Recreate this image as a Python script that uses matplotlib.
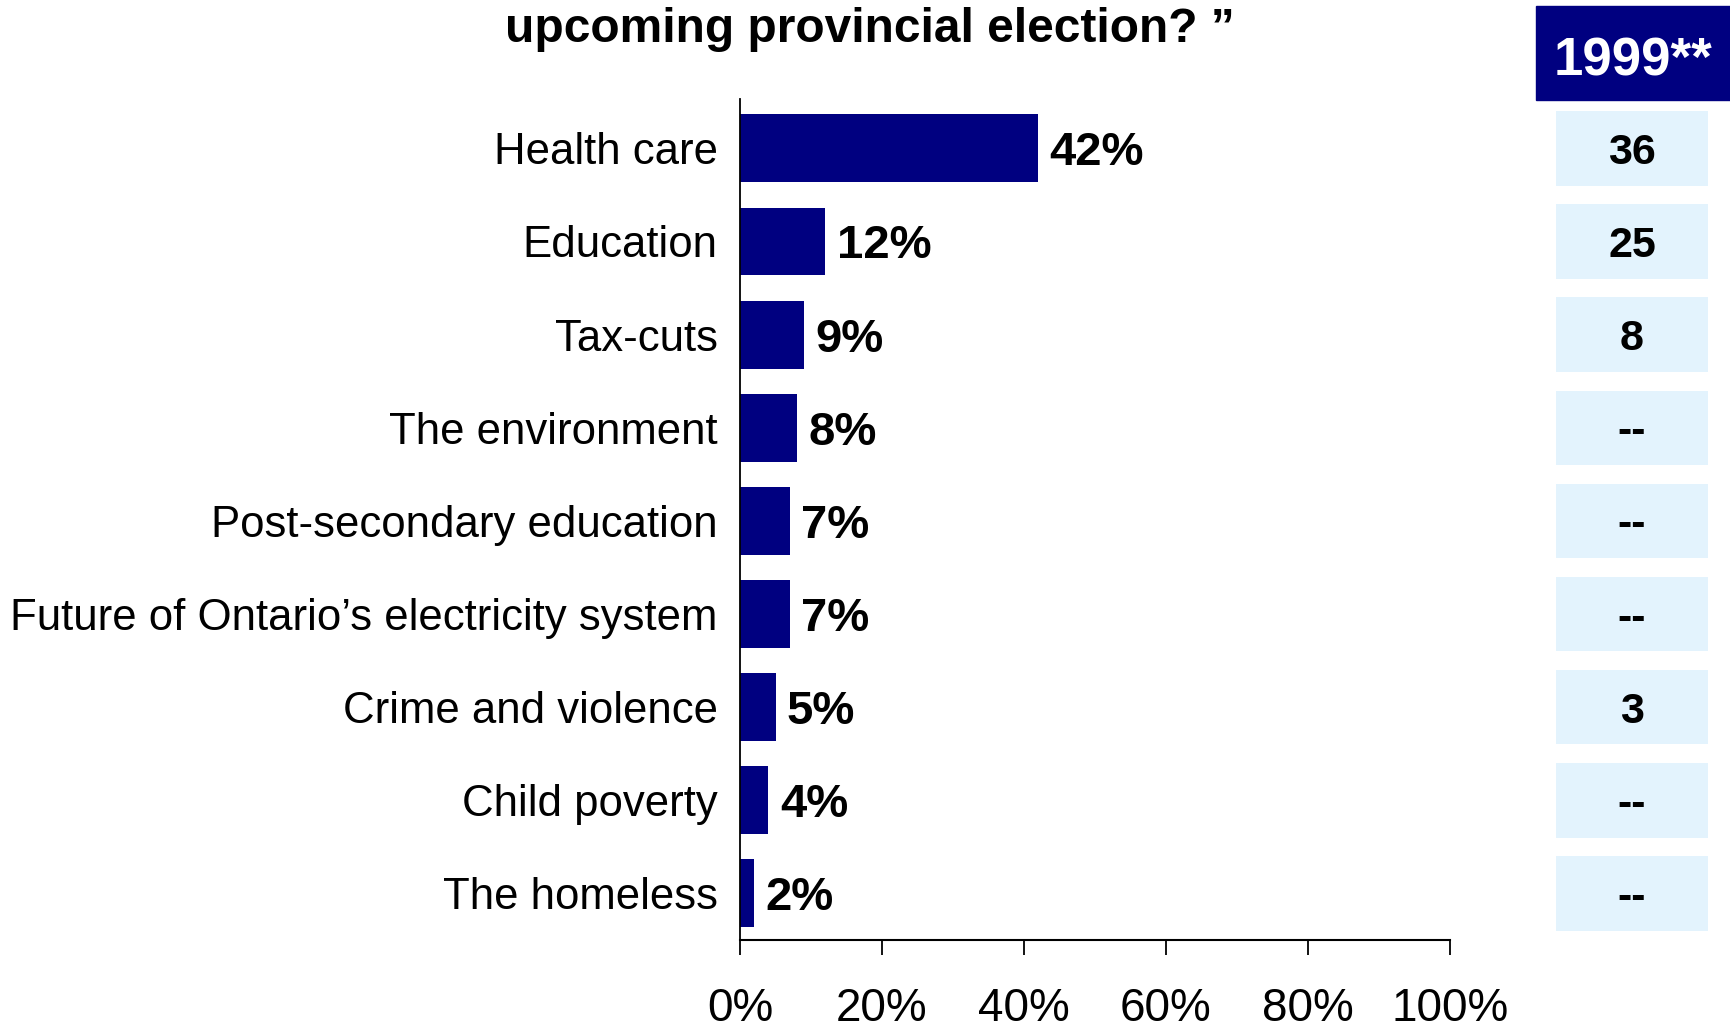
import matplotlib
matplotlib.use("Agg")
import matplotlib.pyplot as plt
from matplotlib import font_manager
from matplotlib.patches import Rectangle

names = {f.name for f in font_manager.fontManager.ttflist}
FAM = "Liberation Sans Narrow" if "Liberation Sans Narrow" in names else "Liberation Sans"
plt.rcParams['font.family'] = [FAM, 'DejaVu Sans']

categories = ["Health care", "Education", "Tax-cuts", "The environment",
              "Post-secondary education", "Future of Ontario\u2019s electricity system",
              "Crime and violence", "Child poverty", "The homeless"]
values = [42, 12, 9, 8, 7, 7, 5, 4, 2]
prev_1999 = ["36", "25", "8", "--", "--", "--", "3", "--", "--"]
xticks = [0, 20, 40, 60, 80, 100]
title_line = "upcoming provincial election? \u201d"
header = "1999**"

NAVY = "#000080"
LIGHT = "#E3F3FD"
W, H = 1730, 1030
fig = plt.figure(figsize=(W/100, H/100), dpi=100)

ax = fig.add_axes([740/W, 1-940/H, 710/W, (940-99)/H])
y = list(range(len(categories)))
ax.barh(y, values, height=0.73, color=NAVY)
ax.set_ylim(8.5, -0.53)
ax.set_xlim(0, 100)
ax.set_yticks(y)
ax.set_yticklabels(categories, fontsize=31.5)
ax.tick_params(axis='y', length=0, pad=16)
ax.set_xticks(xticks)
ax.set_xticklabels([f"{t}%" for t in xticks], fontsize=33)
ax.tick_params(axis='x', length=11, width=1.3, direction='out', pad=23)
for s in ['top', 'right']:
    ax.spines[s].set_visible(False)
ax.spines['bottom'].set_linewidth(1.5)
ax.spines['left'].set_linewidth(1.3)
for yi, v in zip(y, values):
    ax.text(v + 1.6, yi, f"{v}%", va='center_baseline', ha='left', fontsize=34,
            fontweight='bold')

# right column of 1999 values
ax2 = fig.add_axes([1556/W, 1-940/H, 152/W, (940-99)/H], sharey=ax)
ax2.barh(y, [1]*len(y), height=0.8, color=LIGHT)
ax2.set_xlim(0, 1)
ax2.axis('off')
for yi, t in zip(y, prev_1999):
    ax2.text(0.5, yi, t, ha='center', va='center_baseline', fontsize=31,
             fontweight='bold')

fig.patches.append(Rectangle((1536/W, 1-100/H), (W-1536)/W, 94/H,
                             transform=fig.transFigure, color=NAVY, zorder=0))
fig.text((1536+W)/2/W, 1-56/H, header, ha='center', va='center_baseline', color='white',
         fontsize=38, fontweight='bold')

fig.text(870/W, 1-42/H, title_line, ha='center', va='baseline', fontsize=34.5,
         fontweight='bold')

fig.savefig("out.png", dpi=100)
